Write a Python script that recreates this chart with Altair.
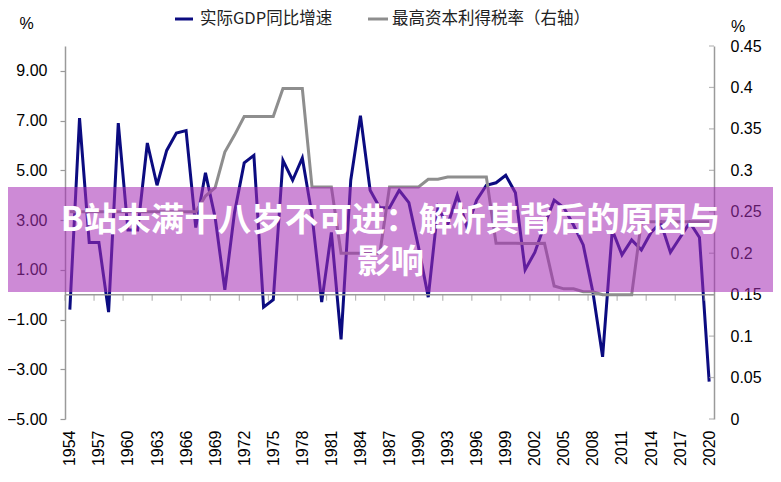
import altair as alt
import pandas as pd

# ---------------- data ----------------
years = list(range(1954, 2021))
gdp_growth = [
    -0.6, 7.1, 2.1, 2.1, -0.7, 6.9, 2.6, 2.6, 6.1, 4.4,   # 1954-1963
    5.8, 6.5, 6.6, 2.7, 4.9, 3.1, 0.2, 3.3, 5.3, 5.6,     # 1964-1973
    -0.5, -0.2, 5.4, 4.6, 5.5, 3.2, -0.3, 2.5, -1.8, 4.6, # 1974-1983
    7.2, 4.2, 3.5, 3.5, 4.2, 3.7, 1.9, -0.1, 3.5, 2.8,    # 1984-1993
    4.0, 2.7, 3.8, 4.4, 4.5, 4.8, 4.1, 1.0, 1.7, 2.8,     # 1994-2003
    3.8, 3.5, 2.8, 2.0, 0.1, -2.5, 2.6, 1.6, 2.2, 1.8,    # 2004-2013
    2.5, 2.9, 1.7, 2.3, 2.9, 2.3, -3.5,                   # 2014-2020
]
tax_rate = [
    0.25, 0.25, 0.25, 0.25, 0.25, 0.25, 0.25, 0.25, 0.25, 0.25,          # 1954-1963
    0.25, 0.25, 0.25, 0.25, 0.269, 0.279, 0.3221, 0.3425, 0.365, 0.365,  # 1964-1973
    0.365, 0.365, 0.39875, 0.39875, 0.39875, 0.28, 0.28, 0.28, 0.20, 0.20,  # 1974-1983
    0.20, 0.20, 0.20, 0.28, 0.28, 0.28, 0.28, 0.2893, 0.2893, 0.2919,    # 1984-1993
    0.2919, 0.2919, 0.2919, 0.2919, 0.2119, 0.2119, 0.2119, 0.2117, 0.2116, 0.2119,  # 1994-2003
    0.1605, 0.157, 0.157, 0.1535, 0.1535, 0.15, 0.15, 0.15, 0.15, 0.238, # 2004-2013
    0.238, 0.238, 0.238, 0.238, 0.238, 0.238, 0.238,                     # 2014-2020
]
x_label_years = list(range(1954, 2021, 3))
left_ticks = [-5, -3, -1, 1, 3, 5, 7, 9]
right_ticks = [0, 0.05, 0.1, 0.15, 0.2, 0.25, 0.3, 0.35, 0.4, 0.45]
series_names = ["实际GDP同比增速", "最高资本利得税率（右轴）"]
banner_lines = ["B站未满十八岁不可进：解析其背后的原因与", "影响"]
unit_label = "%"

# ---------------- tables ----------------
df = pd.DataFrame({"year": years, "gdp": gdp_growth, "tax": tax_rate})
sep_df = pd.DataFrame({"pos": [y - 0.5 for y in x_label_years]})
sep_df["z"] = 0
rt_df = pd.DataFrame({"v": right_ticks})
zero_df = pd.DataFrame({"z": [0]})
one_row = pd.DataFrame({"k": [0]})

# ---------------- style ----------------
W, H = 649, 373
NAVY = "#0b0b80"
GRAY_LINE = "#8e8e8e"
AXIS_GRAY = "#9a9a9a"
LATIN = "Liberation Sans"
CJK = "Noto Sans CJK SC"

xscale = alt.Scale(domain=[1953.5, 2020.5], nice=False, zero=False)
yl_scale = alt.Scale(domain=[-5, 10], nice=False, zero=False)
yr_scale = alt.Scale(domain=[0, 0.45], nice=False, zero=False)

x_axis = alt.Axis(values=x_label_years, labelAngle=-90, domain=False,
                  ticks=False, grid=False, labelPadding=11, format="d",
                  labelFont=LATIN, labelFontSize=16, labelColor="#000",
                  labelFlush=False, labelOverlap=False, title=None)
yl_axis = alt.Axis(values=left_ticks, format=".2f", title=None, grid=False,
                   domainColor=AXIS_GRAY, domainWidth=1.5,
                   tickColor=AXIS_GRAY, tickWidth=1.2, tickSize=5,
                   labelPadding=13, labelFont=LATIN, labelFontSize=16,
                   labelColor="#000")
yr_axis = alt.Axis(orient="right", values=right_ticks, format=".2~f",
                   title=None, grid=False, domainColor=AXIS_GRAY,
                   domainWidth=1.5, tickSize=0, labelPadding=16,
                   labelFont=LATIN, labelFontSize=16, labelColor="#000")

# ---------------- left-axis group ----------------
gdp_line = alt.Chart(df).mark_line(color=NAVY, strokeWidth=3).encode(
    x=alt.X("year:Q", scale=xscale, axis=x_axis),
    y=alt.Y("gdp:Q", scale=yl_scale, axis=yl_axis),
)
zero_rule = alt.Chart(zero_df).mark_rule(color=AXIS_GRAY, strokeWidth=1.5).encode(
    y=alt.Y("z:Q", scale=yl_scale, axis=yl_axis)
)
x_ticks = alt.Chart(sep_df).mark_tick(
    orient="vertical", size=6, thickness=1.2, color=AXIS_GRAY, yOffset=3
).encode(
    x=alt.X("pos:Q", scale=xscale, axis=x_axis),
    y=alt.Y("z:Q", scale=yl_scale, axis=yl_axis),
)
left_group = alt.layer(gdp_line, zero_rule, x_ticks)

# ---------------- right-axis group ----------------
tax_line = alt.Chart(df).mark_line(color=GRAY_LINE, strokeWidth=3).encode(
    x=alt.X("year:Q", scale=xscale, axis=x_axis),
    y=alt.Y("tax:Q", scale=yr_scale, axis=yr_axis),
)
r_ticks = alt.Chart(rt_df).mark_tick(
    orient="horizontal", size=5, thickness=1.2, color=AXIS_GRAY, xOffset=-2.5
).encode(
    x=alt.value(W),
    y=alt.Y("v:Q", scale=yr_scale, axis=yr_axis),
)
right_group = alt.layer(tax_line, r_ticks)

# ---------------- legend (manual) ----------------
leg1_line = alt.Chart(one_row).mark_rule(color=NAVY, strokeWidth=3).encode(
    x=alt.value(110), x2=alt.value(128), y=alt.value(-27))
leg1_text = alt.Chart(one_row).mark_text(
    align="left", baseline="middle", font=CJK, fontSize=16.5, color="#222").encode(
    x=alt.value(135), y=alt.value(-27), text=alt.value(series_names[0]))
leg2_line = alt.Chart(one_row).mark_rule(color=GRAY_LINE, strokeWidth=3).encode(
    x=alt.value(303), x2=alt.value(323), y=alt.value(-27))
leg2_text = alt.Chart(one_row).mark_text(
    align="left", baseline="middle", font=CJK, fontSize=16.5, color="#222").encode(
    x=alt.value(327), y=alt.value(-27), text=alt.value(series_names[1]))

unit_left = alt.Chart(one_row).mark_text(
    align="center", baseline="middle", font=LATIN, fontSize=16, color="#000").encode(
    x=alt.value(-38.5), y=alt.value(-22), text=alt.value(unit_label))
unit_right = alt.Chart(one_row).mark_text(
    align="center", baseline="middle", font=LATIN, fontSize=16, color="#000").encode(
    x=alt.value(673), y=alt.value(-19), text=alt.value(unit_label))

# ---------------- banner overlay ----------------
banner = alt.Chart(one_row).mark_rect(color="#a52fb5", opacity=0.56).encode(
    x=alt.value(-57), x2=alt.value(708), y=alt.value(141), y2=alt.value(246))
banner_t1 = alt.Chart(one_row).mark_text(
    align="center", baseline="middle", font=CJK, fontSize=33.5, fontWeight="bold",
    color="white").encode(
    x=alt.value(325.5), y=alt.value(175), text=alt.value(banner_lines[0]))
banner_t2 = alt.Chart(one_row).mark_text(
    align="center", baseline="middle", font=CJK, fontSize=33.5, fontWeight="bold",
    color="white").encode(
    x=alt.value(325.5), y=alt.value(217), text=alt.value(banner_lines[1]))

chart = alt.layer(
    left_group, right_group,
    leg1_line, leg1_text, leg2_line, leg2_text, unit_left, unit_right,
    banner, banner_t1, banner_t2,
).resolve_scale(y="independent").properties(
    width=W, height=H,
    autosize=alt.AutoSizeParams(type="none"),
    padding={"left": 57, "top": 38, "right": 59, "bottom": 55},
).configure_view(strokeWidth=0)

chart.save("out.html", embed_options={"renderer": "svg", "actions": False})
